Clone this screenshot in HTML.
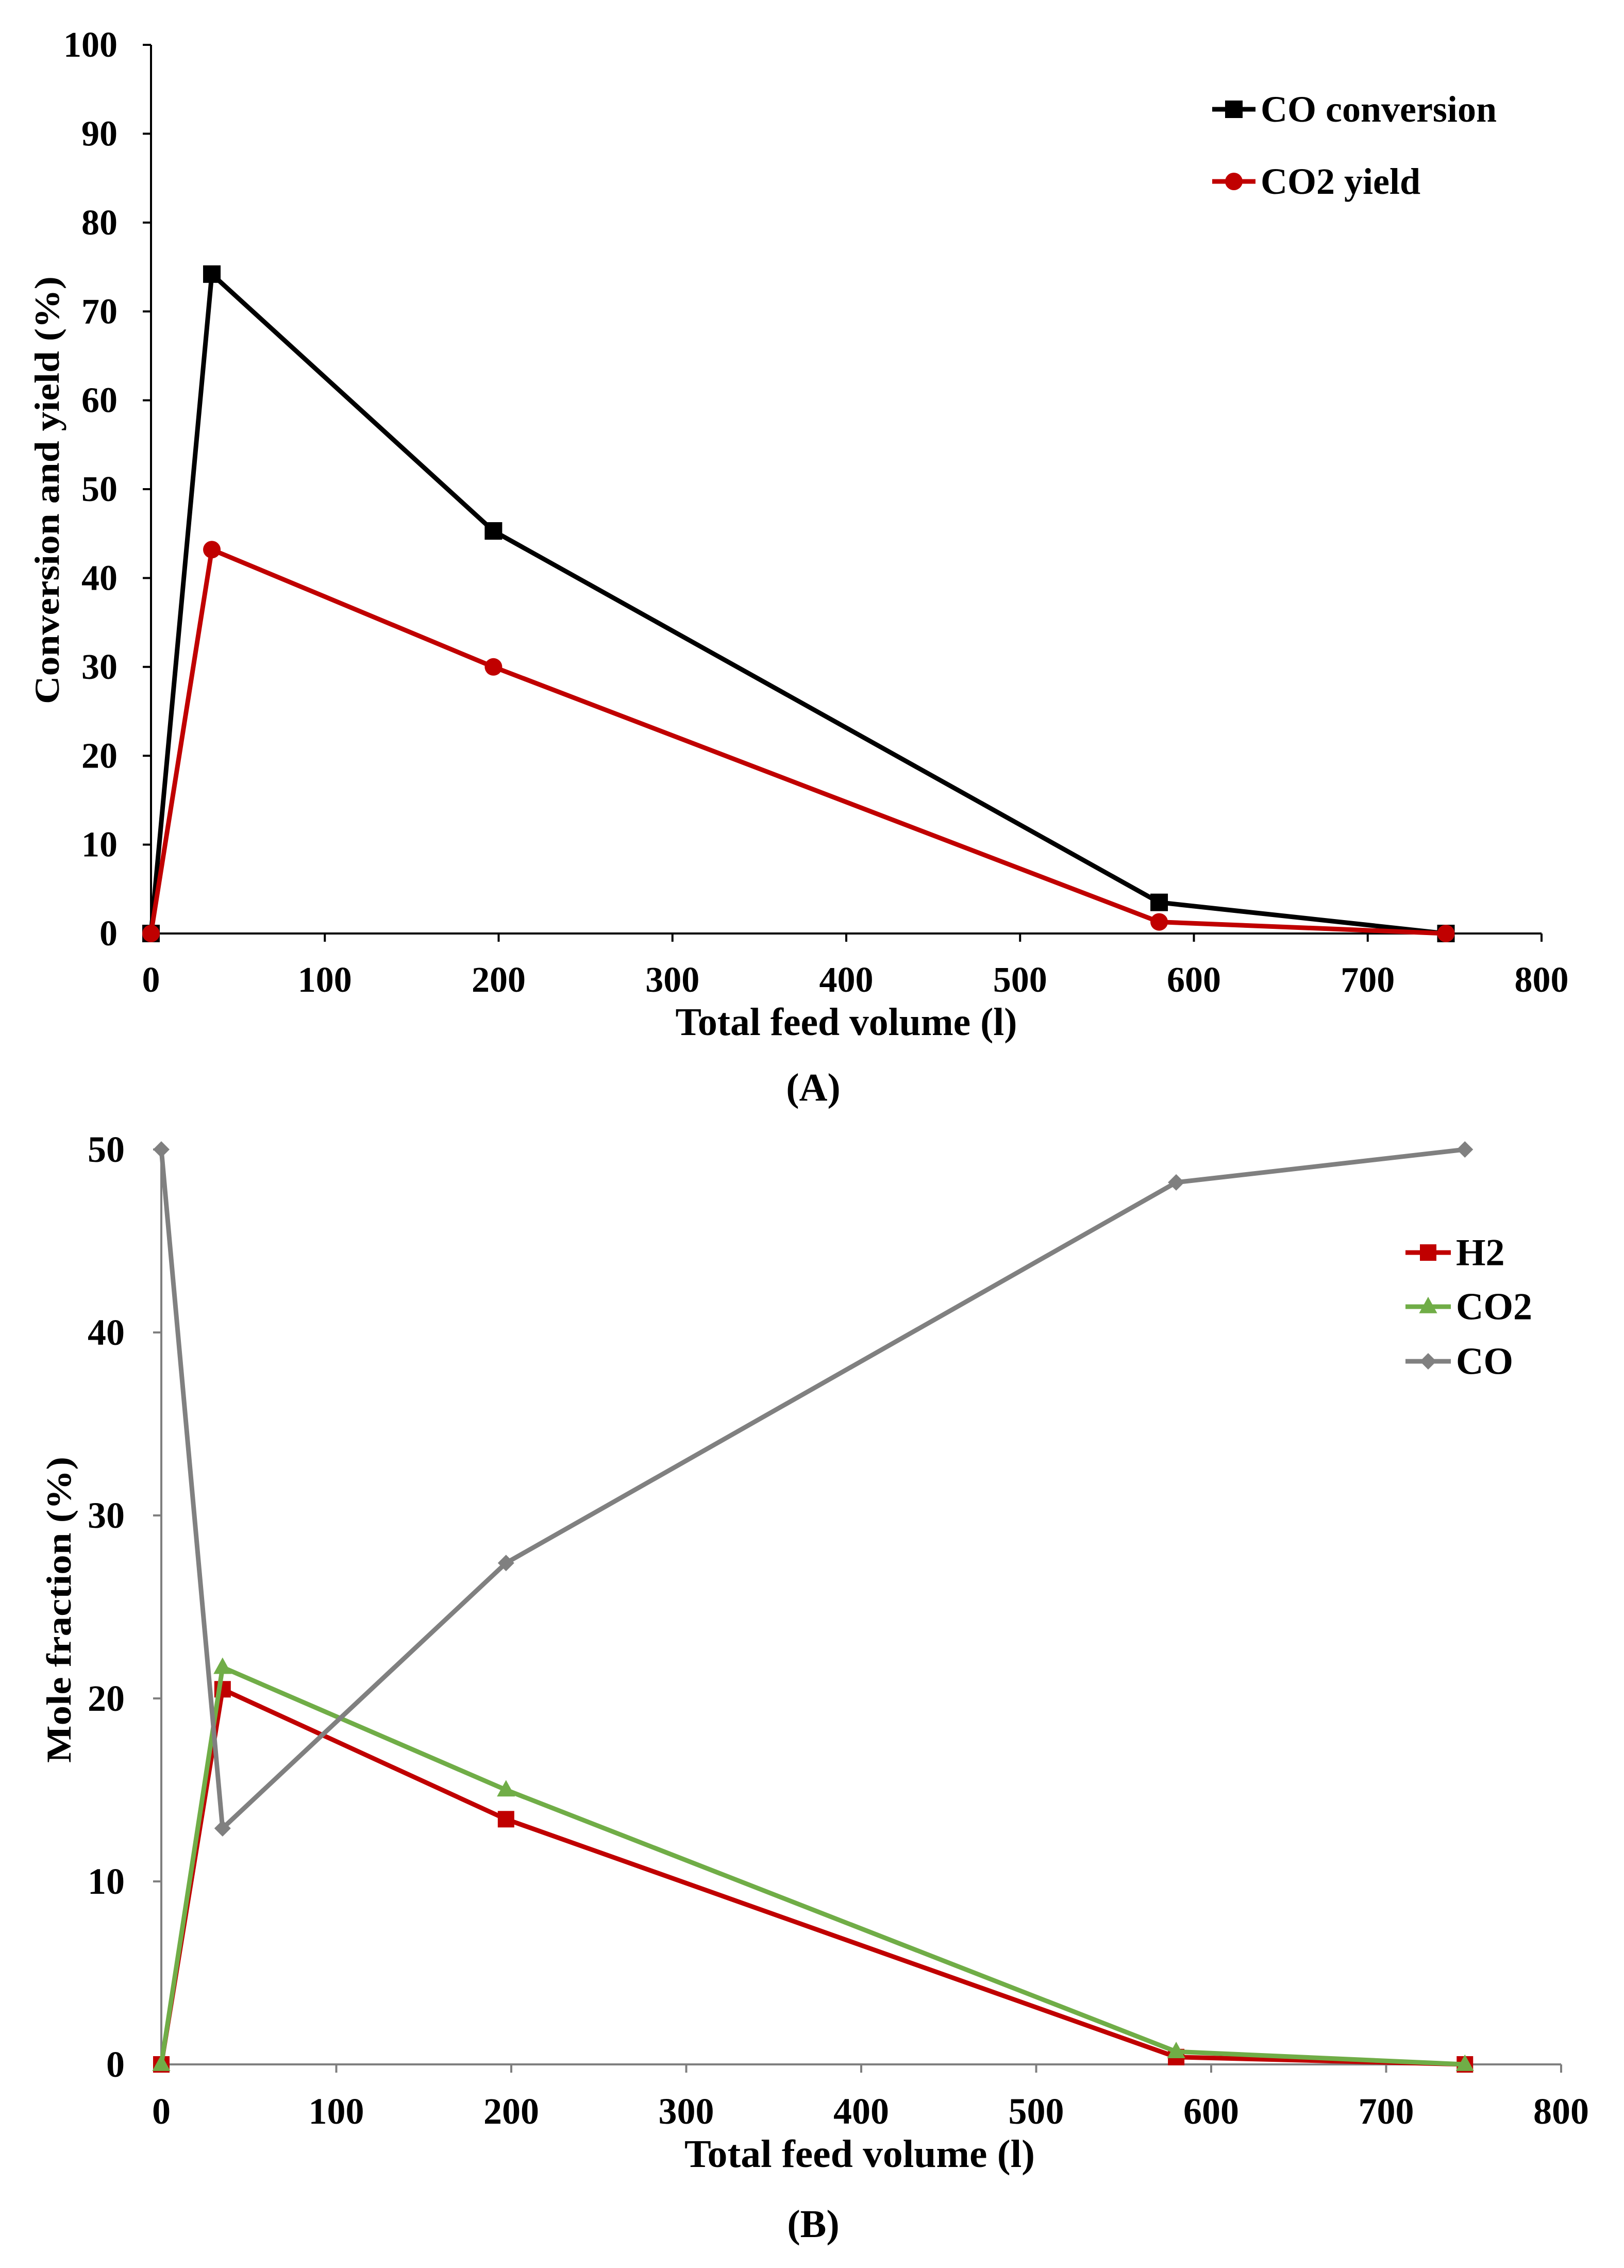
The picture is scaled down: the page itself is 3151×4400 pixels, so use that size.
<!DOCTYPE html>
<html><head><meta charset="utf-8"><style>html,body{margin:0;padding:0;background:#fff}svg{display:block}text{font-family:"Liberation Serif",serif;font-weight:bold;fill:#000}</style></head>
<body>
<svg id="s" width="3151" height="4400" viewBox="0 0 3151 4400" xmlns="http://www.w3.org/2000/svg">
<g id="ga"></g>
<g id="gb"></g>
</svg>
<script>
const xVals = [0, 35, 197, 580, 745];
const coConversion = [0, 74.2, 45.3, 3.5, 0];
const co2Yield = [0, 43.2, 30, 1.3, 0];
const h2Frac = [0, 20.5, 13.4, 0.4, 0];
const co2Frac = [0, 21.7, 15, 0.7, 0];
const coFrac = [50, 12.9, 27.4, 48.2, 50];
const xTicks = [0, 100, 200, 300, 400, 500, 600, 700, 800];
const yTicksA = [0, 10, 20, 30, 40, 50, 60, 70, 80, 90, 100];
const yTicksB = [0, 10, 20, 30, 40, 50];

const NS = "http://www.w3.org/2000/svg";
function mk(parent, tag, attrs, txt) {
  const e = document.createElementNS(NS, tag);
  for (const k in attrs) e.setAttribute(k, attrs[k]);
  if (txt !== undefined) e.textContent = txt;
  parent.appendChild(e);
  return e;
}
function marker(g, type, x, y, color, s) {
  let m;
  if (type === 'square') m = mk(g, 'rect', {x: x - s, y: y - s, width: 2 * s, height: 2 * s, fill: color});
  else if (type === 'circle') m = mk(g, 'circle', {cx: x, cy: y, r: s, fill: color});
  else if (type === 'triangle') m = mk(g, 'polygon', {points: `${x},${y - s * 1.2} ${x - s * 1.1},${y + s * 0.8} ${x + s * 1.1},${y + s * 0.8}`, fill: color});
  else m = mk(g, 'polygon', {points: `${x},${y - s} ${x + s},${y} ${x},${y + s} ${x - s},${y}`, fill: color});
  return m;
}
function chart(g, cfg) {
  const X = v => cfg.x0 + (v / 800) * (cfg.x1 - cfg.x0);
  const Y = v => cfg.y0 - (v / cfg.ymax) * (cfg.y0 - cfg.y1);
  const ax = mk(g, 'path', {d: `M${cfg.x0},${cfg.y1}V${cfg.y0}H${cfg.x1}`, stroke: cfg.axisColor, 'stroke-width': 4, fill: 'none'});
  
  
  cfg.yTicks.forEach(t => {
    const l = mk(g, 'line', {x1: cfg.x0 - 16, x2: cfg.x0, y1: Y(t), y2: Y(t), stroke: cfg.axisColor, 'stroke-width': 4});
    
    
    const tx = mk(g, 'text', {x: cfg.ylabX, y: Y(t) + cfg.tickFs * 0.33, 'text-anchor': 'end', 'font-size': cfg.tickFs}, t);
    
    
  });
  xTicks.forEach(t => {
    const l = mk(g, 'line', {x1: X(t), x2: X(t), y1: cfg.y0, y2: cfg.y0 + 16, stroke: cfg.axisColor, 'stroke-width': 4});
    
    
    const tx = mk(g, 'text', {x: X(t), y: cfg.xlabY, 'text-anchor': 'middle', 'font-size': cfg.tickFs}, t);
    
    
  });
  const xt = mk(g, 'text', {x: cfg.xtX, y: cfg.xtY, 'text-anchor': 'middle', 'font-size': cfg.titleFs, textLength: cfg.xtLen, lengthAdjust: 'spacingAndGlyphs'}, 'Total feed volume (l)');
  
  
  const yt = mk(g, 'text', {x: 0, y: 0, 'text-anchor': 'middle', 'font-size': cfg.ytFs, textLength: cfg.ytLen, lengthAdjust: 'spacingAndGlyphs', transform: `translate(${cfg.ytX},${cfg.ytY}) rotate(-90)`}, cfg.yTitle);
  
  
  const pl = mk(g, 'text', {x: 1578, y: cfg.panelY, 'text-anchor': 'middle', 'font-size': 76}, cfg.panel);
  
  
  cfg.series.forEach((s, si) => {
    const sg = mk(g, 'g', {});
    
    
    const pts = xVals.map((x, i) => X(x) + ',' + Y(s.data[i])).join(' ');
    const line = mk(sg, 'polyline', {points: pts, fill: 'none', stroke: s.color, 'stroke-width': cfg.lw, 'stroke-linejoin': 'round'});
    
    
    xVals.forEach((x, i) => {
      const m = marker(sg, s.marker, X(x), Y(s.data[i]), s.color, cfg.ms);
      
      
    });
    const lg = mk(g, 'g', {});
    
    
    const ly = cfg.legY[si];
    const ll = mk(lg, 'line', {x1: cfg.legX0, x2: cfg.legX1, y1: ly, y2: ly, stroke: s.color, 'stroke-width': cfg.lw});
    
    
    const lm = marker(lg, s.marker, (cfg.legX0 + cfg.legX1) / 2, ly, s.color, cfg.ms);
    
    
    const lt = mk(lg, 'text', {x: cfg.legX1 + 10, y: ly + cfg.legFs * 0.33, 'font-size': cfg.legFs}, s.label);
    
    
  });
}
chart(document.getElementById('ga'), {
  x0: 293, x1: 2991, y0: 1811, y1: 87, ymax: 100, yTicks: yTicksA, axisColor: '#000',
  tickFs: 70, ylabX: 228, xlabY: 1924, titleFs: 76, xtX: 1642, xtY: 2008, xtLen: 663,
  ytFs: 68, ytX: 114, ytY: 951, ytLen: 830, yTitle: 'Conversion and yield (%)',
  panel: '(A)', panelY: 2135, lw: 9, ms: 17,
  legX0: 2352, legX1: 2436, legY: [212, 352], legFs: 72,
  series: [
    {name: 'co-conversion', label: 'CO conversion', data: coConversion, color: '#000', marker: 'square'},
    {name: 'co2-yield', label: 'CO2 yield', data: co2Yield, color: '#c00000', marker: 'circle'}
  ]
});
chart(document.getElementById('gb'), {
  x0: 313, x1: 3029, y0: 4005, y1: 2230, ymax: 50, yTicks: yTicksB, axisColor: '#7f7f7f',
  tickFs: 72, ylabX: 242, xlabY: 4120, titleFs: 76, xtX: 1668, xtY: 4204, xtLen: 680,
  ytFs: 68, ytX: 137, ytY: 3123, ytLen: 594, yTitle: 'Mole fraction (%)',
  panel: '(B)', panelY: 4340, lw: 9, ms: 16,
  legX0: 2727, legX1: 2815, legY: [2430, 2535, 2641], legFs: 74,
  series: [
    {name: 'h2', label: 'H2', data: h2Frac, color: '#c00000', marker: 'square'},
    {name: 'co2', label: 'CO2', data: co2Frac, color: '#70ad47', marker: 'triangle'},
    {name: 'co', label: 'CO', data: coFrac, color: '#808080', marker: 'diamond'}
  ]
});
</script>
</body></html>
